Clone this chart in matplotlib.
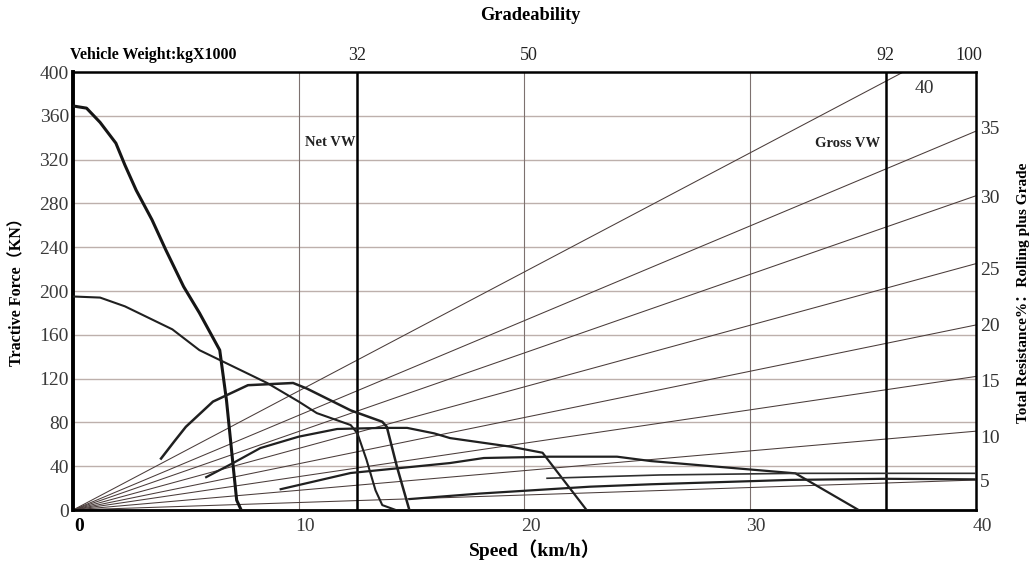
import matplotlib
matplotlib.use('Agg')
from matplotlib import pyplot as plt
import matplotlib.transforms as mtransforms

plt.rcParams['font.family'] = ['Liberation Serif', 'Noto Sans CJK SC']

# gear curves: speed (km/h) / tractive force (kN)
speed_a = [0, 0.6, 1.2, 1.9, 2.3, 2.8, 3.5, 4.1, 4.9, 5.6, 6.5, 6.8, 7.1, 7.25, 7.45]
force_a = [369, 367, 354, 335, 315, 292, 265, 238, 204, 180, 146, 100, 39, 9, 0]

speed_b = [0, 1.2, 2.3, 3.4, 4.4, 5.6, 7.1, 8.6, 10.0, 10.8, 12.3, 12.6, 13.0, 13.4, 13.7, 14.3]
force_b = [195, 194, 186, 175, 165, 146, 131, 116, 99, 88.5, 77.6, 70, 46, 18, 4.5, 0]

speed_c = [3.9, 4.5, 5.0, 6.2, 7.75, 9.75, 10.35, 12.3, 13.7, 13.9, 14.35, 14.9]
force_c = [47, 63, 76, 99, 114, 116, 111, 91, 80.6, 76, 39.5, 0]

speed_d = [5.9, 7.1, 8.3, 10.0, 11.7, 13.7, 14.8, 16.0, 16.7, 19.4, 20.8, 22.75]
force_d = [30, 43, 56.6, 67, 74, 75, 75, 70, 65.7, 57.8, 52.3, 0]

speed_e = [9.2, 12.3, 16.7, 18.2, 21.1, 24.1, 25.6, 32.0, 34.8]
force_e = [19, 33.8, 42.9, 47.5, 48.7, 48.7, 44.7, 33.5, 0]

speed_f = [14.9, 18.0, 22.9, 25.6, 31.8, 36.0, 40.0]
force_f = [10, 15, 21.3, 23.5, 27.5, 28.5, 28]

speed_g = [21.0, 26.0, 32.0, 40.0]
force_g = [29, 32, 33.5, 33.5]

# total resistance lines (% grade) and their force at 40 km/h
grades = [5, 10, 15, 20, 25, 30, 35, 40]
grade_end_force = [27.4, 72, 122, 169, 225, 287, 346, 435]
# where the right-hand labels sit (kN)
grade_label_force = [27.4, 67, 118, 169, 221, 286, 349]

# top axis: vehicle weight ticks
weight_speed = [12.6, 20.2, 36.0, 39.7]
weight_labels = ['32', '50', '92', '100']
net_vw_speed = 12.6
gross_vw_speed = 36.0

y_ticks = list(range(0, 401, 40))
x_ticks = [0, 10, 20, 30, 40]

fig = plt.figure(figsize=(10.34, 5.67), dpi=100)
ax = fig.add_axes([0.0706, 0.1005, 0.8733, 0.7725])
ax.set_xlim(0, 40)
ax.set_ylim(0, 400)

# grid
for y in y_ticks[1:-1]:
    ax.axhline(y, color='#bdb0ac', lw=1.0, zorder=1)
for x in x_ticks[1:-1]:
    ax.axvline(x, color='#7d716f', lw=0.8, zorder=1)

# resistance lines from origin
for g, fe in zip(grades, grade_end_force):
    ax.plot([0, 40], [0, fe], color='#4a3c3a', lw=0.75, zorder=2)
ax.text(37.3, 385, '40', fontsize=14, color='#333333', ha='left', va='center')

# vehicle weight lines
ax.axvline(net_vw_speed, color='black', lw=1.8, zorder=3)
ax.axvline(gross_vw_speed, color='black', lw=1.8, zorder=3)
ax.text(net_vw_speed - 0.1, 336, 'Net VW', fontsize=10.5, fontweight='bold',
        ha='right', va='center', color='#222222')
ax.text(gross_vw_speed - 0.25, 335, 'Gross VW', fontsize=10.5, fontweight='bold',
        ha='right', va='center', color='#222222')

# tractive force curves
ax.plot(speed_a, force_a, color='#151515', lw=2.2, zorder=4)
ax.plot(speed_b, force_b, color='#202020', lw=1.5, zorder=4)
ax.plot(speed_c, force_c, color='#202020', lw=1.8, zorder=4)
ax.plot(speed_d, force_d, color='#202020', lw=1.6, zorder=4)
ax.plot(speed_e, force_e, color='#202020', lw=1.6, zorder=4)
ax.plot(speed_f, force_f, color='#202020', lw=1.6, zorder=4)
ax.plot(speed_g, force_g, color='#303030', lw=1.2, zorder=4)

# spines
for side, w in [('left', 2.8), ('bottom', 2.0), ('top', 1.8), ('right', 1.8)]:
    ax.spines[side].set_linewidth(w)
    ax.spines[side].set_color('black')

ax.set_yticks(y_ticks)
ax.set_yticklabels([str(v) for v in y_ticks], fontsize=14, color='#3a3a3a')
ax.set_xticks(x_ticks)
ax.set_xticklabels([str(v) for v in x_ticks], fontsize=14, color='#3a3a3a')
ax.get_xticklabels()[0].set_fontweight('bold')
ax.get_xticklabels()[0].set_color('black')
ax.tick_params(axis='both', length=0, pad=6)
ax.tick_params(axis='y', pad=3)
shift = mtransforms.ScaledTranslation(0.06, 0, fig.dpi_scale_trans)
for lab in ax.get_xticklabels():
    lab.set_transform(lab.get_transform() + shift)

# right axis
ax2 = ax.twinx()
ax2.set_ylim(0, 400)
ax2.set_yticks(grade_label_force)
ax2.set_yticklabels([str(g) for g in grades[:-1]], fontsize=14, color='#333333')
ax2.tick_params(axis='y', length=0, pad=3)
for s in ax2.spines.values():
    s.set_visible(False)

# top axis
ax3 = ax.twiny()
ax3.set_xlim(0, 40)
ax3.set_xticks(weight_speed)
ax3.set_xticklabels(weight_labels, fontsize=13, color='#222222')
ax3.tick_params(axis='x', length=0, pad=6)
for s in ax3.spines.values():
    s.set_visible(False)

fig.text(530 / 1034, 1 - 15 / 567, 'Gradeability', fontsize=13.2, fontweight='bold',
         ha='center', va='center')
fig.text(70 / 1034, 1 - 55 / 567, 'Vehicle Weight:kgX1000', fontsize=11.4,
         fontweight='bold', ha='left', va='center')
fig.text(17 / 1034, 1 - 288 / 567, 'Tractive Force（KN）', fontsize=11.6,
         fontweight='bold', rotation=90, ha='center', va='center')
fig.text(535 / 1034, 1 - 550 / 567, 'Speed（km/h）', fontsize=14,
         fontweight='bold', ha='center', va='center')
fig.text(1024 / 1034, 1 - 293 / 567, 'Total Resistance%：Rolling plus Grade',
         fontsize=11, fontweight='bold', rotation=90, ha='center', va='center')

fig.savefig('out.png', dpi=100, facecolor='white')
